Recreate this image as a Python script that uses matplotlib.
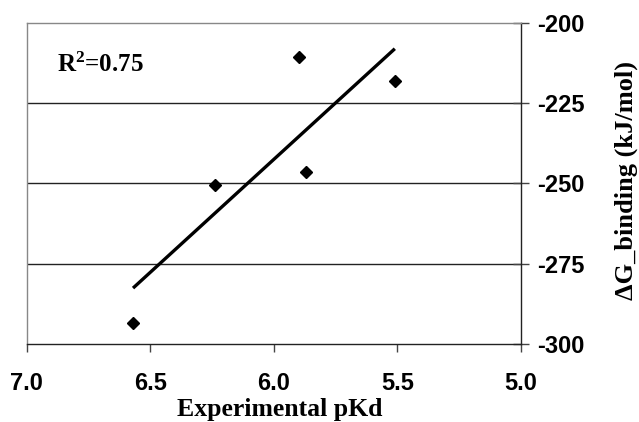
import numpy as np
import matplotlib
matplotlib.use("Agg")
import matplotlib.pyplot as plt

plt.rcParams["mathtext.fontset"] = "custom"
plt.rcParams["mathtext.rm"] = "Liberation Serif:bold"
plt.rcParams["mathtext.it"] = "Liberation Serif:bold"
plt.rcParams["mathtext.bf"] = "Liberation Serif:bold"

# Data
pkd = [6.57, 6.24, 5.90, 5.87, 5.51]
dg_binding = [-293.5, -250.5, -210.5, -246.5, -218.0]
x_ticks = [7.0, 6.5, 6.0, 5.5, 5.0]
y_ticks = [-300, -275, -250, -225, -200]
r2_text = r"R$^\mathbf{2}$=0.75"

fig = plt.figure(figsize=(6.39, 4.22), dpi=100)
ax = fig.add_axes([0.042, 0.185, 0.773, 0.761])

ax.set_xlim(7.0, 5.0)
ax.set_ylim(-300, -200)

# gridlines
for yv in y_ticks[1:-1]:
    ax.axhline(yv, color="#222222", lw=1.0, zorder=1)

ax.plot(pkd, dg_binding, linestyle="none", marker="D", markersize=6.5,
        color="black", zorder=3)

# linear trendline
coef = np.polyfit(pkd, dg_binding, 1)
xl = np.array([min(pkd), max(pkd)])
ax.plot(xl, np.polyval(coef, xl), color="black", lw=2.4, zorder=2,
        solid_capstyle="butt")

ax.yaxis.tick_right()
ax.set_xticks(x_ticks)
ax.set_xticklabels([f"{v:.1f}" for v in x_ticks])
ax.set_yticks(y_ticks)
ax.set_yticklabels([str(v) for v in y_ticks])

for lab in ax.get_xticklabels() + ax.get_yticklabels():
    lab.set_fontfamily("Liberation Sans")
    lab.set_fontweight("bold")
    lab.set_fontsize(17)

ax.tick_params(axis="x", direction="out", length=6, width=1, pad=14,
               color="#444444")
ax.tick_params(axis="y", direction="inout", length=12, width=1, pad=6,
               color="#444444")

ax.spines["left"].set_color("#888888")
ax.spines["top"].set_color("#888888")
ax.spines["right"].set_color("#222222")
ax.spines["bottom"].set_color("#222222")
for s in ax.spines.values():
    s.set_linewidth(1.0)

fig.text(280 / 639, 1 - 416 / 422, "Experimental pKd",
         fontfamily="Liberation Serif", fontweight="bold", fontsize=18.5,
         ha="center", va="baseline")
fig.text(626 / 639, 1 - 181 / 422, "ΔG_binding (kJ/mol)",
         fontfamily="Liberation Serif", fontweight="bold", fontsize=19,
         ha="center", va="center", rotation=90)

fig.text(57 / 639, 1 - 72 / 422, r2_text,
         fontfamily="Liberation Serif", fontweight="bold", fontsize=18,
         va="baseline", ha="left")

fig.savefig("out.png", dpi=100)
